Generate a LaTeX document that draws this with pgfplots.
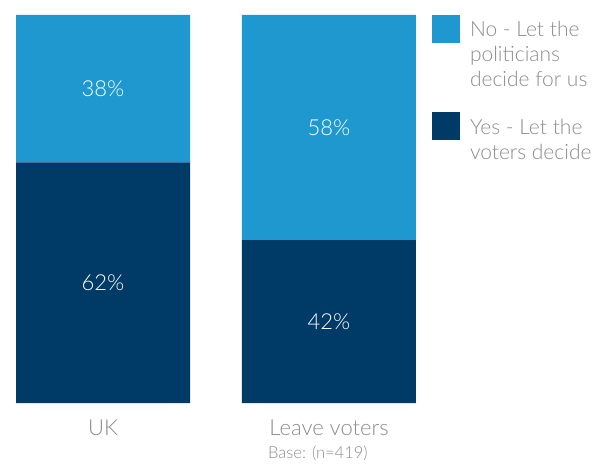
\documentclass[border=0pt]{standalone}
\usepackage{fontspec}
\setmainfont{Lato Light}
\usepackage{pgfplots}
\pgfplotsset{compat=1.18}
\definecolor{lightb}{HTML}{1F98CF}
\definecolor{darkb}{HTML}{003A66}
\definecolor{txtgray}{HTML}{8C8C8C}
\begin{document}
\begin{tikzpicture}[x=1pt,y=1pt]
\path[use as bounding box] (0,0) rectangle (610,463);
\begin{axis}[at={(0pt,60pt)}, anchor=south west, scale only axis,
  width=420pt, height=388pt,
  ybar stacked, bar width=174pt,
  ymin=0, ymax=100, xmin=-0.4558, xmax=1.4027,
  axis line style={draw=none}, ytick=\empty,
  xtick={0,1}, xticklabels={UK, Leave voters},
  major tick length=0pt, xtick style={draw=none},
  xticklabel style={font=\fontsize{22}{26}\selectfont, text=txtgray, anchor=base, yshift=-32pt},
  reverse legend,
  legend image code/.code={\fill[#1] (0pt,-6pt) rectangle (28pt,22pt);},
  legend style={at={(1.02857,1)}, anchor=north west, draw=none, fill=none,
    inner sep=0pt, outer sep=0pt, row sep=69.5pt, column sep=10pt,
    font=\fontsize{21}{25}\selectfont, text=txtgray,
    nodes={inner sep=0pt, anchor=base west}},
  legend cell align=left,
  clip=false,
  after end axis/.append code={
    \node[text=white, font=\fontsize{22}{26}\selectfont] at (axis cs:0,81) {38\%};
    \node[text=white, font=\fontsize{22}{26}\selectfont] at (axis cs:0,31) {62\%};
    \node[text=white, font=\fontsize{22}{26}\selectfont] at (axis cs:1,71) {58\%};
    \node[text=white, font=\fontsize{22}{26}\selectfont] at (axis cs:1,21) {42\%};
  },
]
\addplot[fill=darkb, draw=none] coordinates {(0,62) (1,42)};
\addlegendentry{\begin{tabular}[t]{@{}l@{}}Yes - Let the\\voters decide\end{tabular}}
\addplot[fill=lightb, draw=none] coordinates {(0,38) (1,58)};
\addlegendentry{\begin{tabular}[t]{@{}l@{}}No - Let the\\politicians\\decide for us\end{tabular}}
\end{axis}
\node[anchor=base west, inner sep=0pt, text=txtgray, font=\fontsize{16.5}{19}\selectfont] at (268,5) {Base: (n=419)};
\end{tikzpicture}
\end{document}
